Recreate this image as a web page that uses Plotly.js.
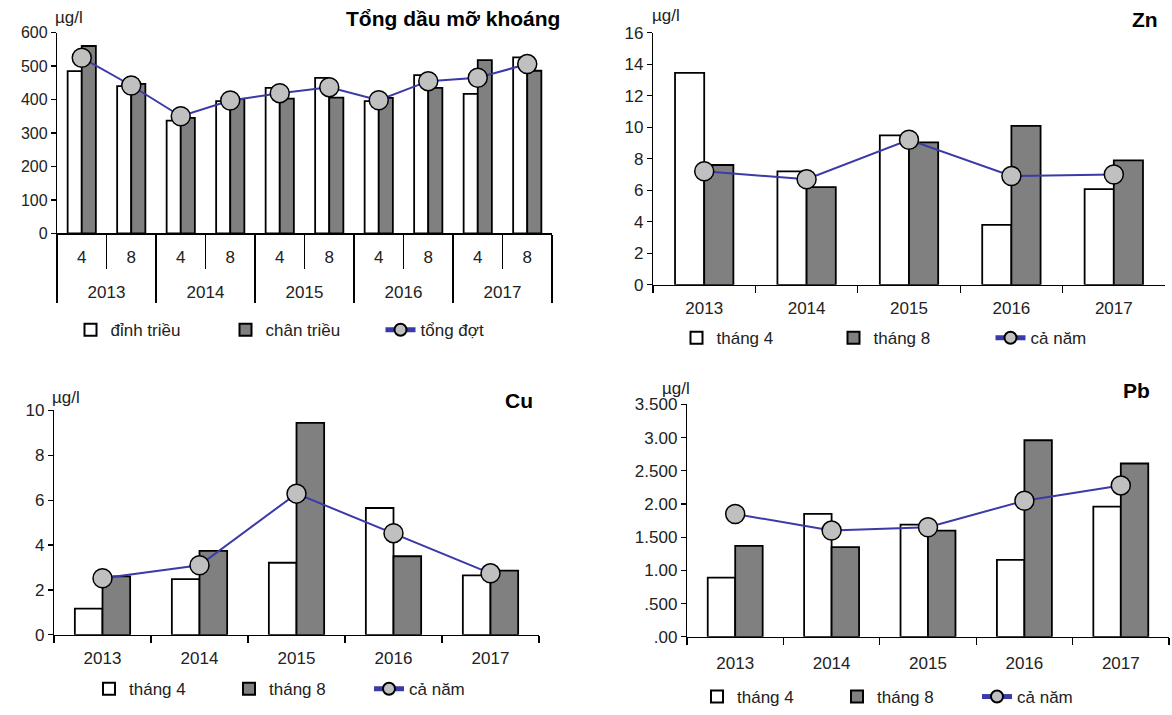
<!DOCTYPE html>
<html><head><meta charset="utf-8">
<script src="https://cdn.plot.ly/plotly-3.0.1.min.js"></script>
<style>html,body{margin:0;padding:0;background:#fff}#chart{width:1172px;height:715px}</style>
</head><body><div id="chart"></div>
<script>
// ---------- data ----------
const years = ['2013','2014','2015','2016','2017'];
const tdmYears = ['2013','2013','2014','2014','2015','2015','2016','2016','2017','2017'];
const tdmMonths = ['4','8','4','8','4','8','4','8','4','8'];
const tdmDinh = [485, 440, 337, 395, 435, 465, 395, 473, 417, 526];
const tdmChan = [560, 447, 345, 402, 403, 406, 405, 435, 518, 486];
const tdmTong = [525, 442, 350, 397, 419, 437, 398, 455, 465, 506];
const znT4 = [13.45, 7.2, 9.48, 3.8, 6.07];
const znT8 = [7.6, 6.2, 9.04, 10.08, 7.9];
const znCa = [7.2, 6.7, 9.2, 6.9, 7.0];
const cuT4 = [1.17, 2.48, 3.21, 5.65, 2.65];
const cuT8 = [2.6, 3.74, 9.44, 3.5, 2.86];
const cuCa = [2.52, 3.1, 6.29, 4.53, 2.74];
const pbT4 = [0.89, 1.85, 1.69, 1.16, 1.96];
const pbT8 = [1.37, 1.35, 1.6, 2.96, 2.61];
const pbCa = [1.85, 1.6, 1.65, 2.05, 2.28];
const pbTickVals = [0, 0.5, 1, 1.5, 2, 2.5, 3, 3.5];
const pbTickText = ['.00', '.500', '1.00', '1.500', '2.00', '2.500', '3.00', '3.500'];

// ---------- styles ----------
const W = 1172, H = 715;
const px = x => x / W;
const py = y => 1 - y / H;
const FONT = 'Liberation Sans, Arial, sans-serif';
const whiteBar = {color: '#ffffff', line: {color: '#000', width: 1.8}};
const grayBar = {color: '#808080', line: {color: '#000', width: 1.8}};
const lineSty = {color: '#3a3aa8', width: 2};
const mark = {size: 19, color: '#c0c0c0', line: {color: '#000', width: 1.5}};

function barTr(x, y, name, mk, xa, ya, lg) {
  return {type: 'bar', x: x, y: y, name: name, marker: mk, xaxis: xa, yaxis: ya, legend: lg, hoverinfo: 'skip'};
}
function lineTr(x, y, name, xa, ya, lg) {
  return {type: 'scatter', mode: 'lines+markers', x: x, y: y, name: name, line: lineSty, marker: mark,
          xaxis: xa, yaxis: ya, legend: lg, hoverinfo: 'skip'};
}

// outer (year) row of the two-level axis is drawn one line lower, as in the source
const tdmOuter = tdmYears.map(y => '<br>' + y);
const tdmX = [tdmOuter, tdmMonths];

const data = [
  barTr(tdmX, tdmDinh, 'đỉnh triều', whiteBar, 'x', 'y', 'legend'),
  barTr(tdmX, tdmChan, 'chân triều', grayBar, 'x', 'y', 'legend'),
  lineTr(tdmX, tdmTong, 'tổng đợt', 'x', 'y', 'legend'),
  barTr(years, znT4, 'tháng 4', whiteBar, 'x2', 'y2', 'legend2'),
  barTr(years, znT8, 'tháng 8', grayBar, 'x2', 'y2', 'legend2'),
  lineTr(years, znCa, 'cả năm', 'x2', 'y2', 'legend2'),
  barTr(years, cuT4, 'tháng 4', whiteBar, 'x3', 'y3', 'legend3'),
  barTr(years, cuT8, 'tháng 8', grayBar, 'x3', 'y3', 'legend3'),
  lineTr(years, cuCa, 'cả năm', 'x3', 'y3', 'legend3'),
  barTr(years, pbT4, 'tháng 4', whiteBar, 'x4', 'y4', 'legend4'),
  barTr(years, pbT8, 'tháng 8', grayBar, 'x4', 'y4', 'legend4'),
  lineTr(years, pbCa, 'cả năm', 'x4', 'y4', 'legend4')
];

const tickFont = {family: FONT, size: 17, color: '#222'};
function xAx(dom, anchor, n, standoff) {
  return {domain: dom, anchor: anchor, type: 'category', range: [-0.5, n - 0.5], autorange: false,
          showline: true, linecolor: '#000', linewidth: 1.2,
          ticks: 'outside', tickson: 'boundaries', ticklen: 7, tickcolor: '#000', tickwidth: 1.2,
          ticklabelstandoff: standoff,
          showgrid: false, zeroline: false, tickfont: tickFont, fixedrange: true};
}
function yAx(dom, anchor, range, dtick) {
  return {domain: dom, anchor: anchor, range: range, dtick: dtick, showline: true, linecolor: '#000', linewidth: 1.2,
          ticks: 'outside', ticklen: 5, tickcolor: '#000', tickwidth: 1.2, showgrid: false, zeroline: false,
          tickfont: tickFont, fixedrange: true};
}
function leg(cx, cy, ew) {
  return {orientation: 'h', x: px(cx), xanchor: 'center', y: py(cy), yanchor: 'middle',
          entrywidth: ew, entrywidthmode: 'pixels',
          font: {family: FONT, size: 17, color: '#222'}, itemsizing: 'constant', bgcolor: 'rgba(0,0,0,0)'};
}
function ann(text, x, y, xanchor, bold, size) {
  return {text: bold ? '<b>' + text + '</b>' : text, x: px(x), y: py(y), xref: 'paper', yref: 'paper',
          xanchor: xanchor, yanchor: 'middle', showarrow: false,
          font: {family: FONT, size: size, color: bold ? '#000' : '#222'}};
}

const xaxis = xAx([px(57), px(552)], 'y', 10, 8);
xaxis.type = 'multicategory';
xaxis.ticklen = 34;
xaxis.showdividers = true;
xaxis.dividercolor = '#000';
xaxis.dividerwidth = 1.2;

const yaxis1 = yAx([py(236), py(33)], 'x', [0, 600], 100);
yaxis1.tickfont = {family: FONT, size: 16, color: '#222'};

const yaxis4 = yAx([py(644), py(409)], 'x4', [0, 3.5], 0.5);
yaxis4.tickmode = 'array';
yaxis4.tickvals = pbTickVals;
yaxis4.ticktext = pbTickText;

const layout = {
  width: W, height: H,
  margin: {l: 0, r: 0, t: 0, b: 0},
  paper_bgcolor: '#fff', plot_bgcolor: 'rgba(0,0,0,0)',
  font: {family: FONT, color: '#222'},
  barmode: 'group', bargap: 0.43, bargroupgap: 0,
  showlegend: true,
  xaxis: xaxis,
  yaxis: yaxis1,
  xaxis2: xAx([px(653), px(1165)], 'y2', 5, 8),
  yaxis2: yAx([py(288), py(33)], 'x2', [0, 16], 2),
  xaxis3: xAx([px(54), px(539)], 'y3', 5, 8),
  yaxis3: yAx([py(642), py(415)], 'x3', [0, 10], 2),
  xaxis4: xAx([px(687), px(1169)], 'y4', 5, 11),
  yaxis4: yaxis4,
  legend: leg(303, 334, 110),
  legend2: leg(912, 342, 112),
  legend3: leg(299, 697, 95),
  legend4: leg(907, 705, 95),
  annotations: [
    ann('Tổng dầu mỡ khoáng', 562, 19, 'right', true, 21),
    ann('µg/l', 53, 18, 'left', false, 17),
    ann('Zn', 1160, 20, 'right', true, 21),
    ann('µg/l', 650, 16, 'left', false, 17),
    ann('Cu', 535, 405, 'right', true, 21),
    ann('µg/l', 50, 402, 'left', false, 17),
    ann('Pb', 1152, 395, 'right', true, 21),
    ann('µg/l', 660, 393, 'left', false, 17)
  ]
};

Plotly.newPlot('chart', data, layout, {staticPlot: true, displayModeBar: false});
</script>
</body></html>
